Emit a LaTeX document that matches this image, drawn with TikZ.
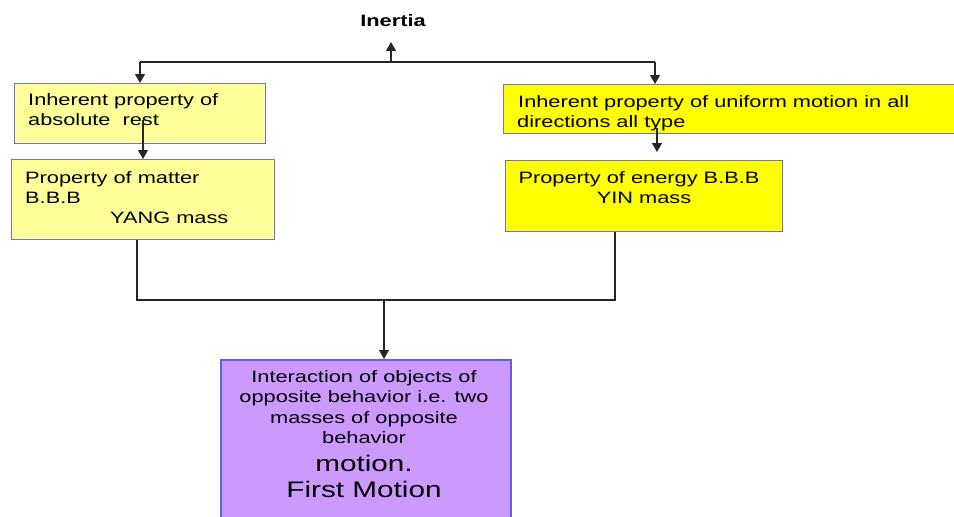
\documentclass[tikz,border=0pt]{standalone}
\usepackage{fontspec}
\setmainfont{Liberation Sans}
\usetikzlibrary{arrows.meta}
\definecolor{lyel}{HTML}{FFFF99}
\definecolor{yel}{HTML}{FFFF00}
\definecolor{purp}{HTML}{CC99FF}
\definecolor{bord}{HTML}{7474C4}
\definecolor{pbord}{HTML}{6060E0}
\newcommand{\sx}[1]{\scalebox{1.32}[1]{#1}}
\tikzset{
  box/.style={draw=bord, line width=1.3pt, anchor=north west, inner sep=0pt},
  txt/.style={anchor=base west, inner sep=0pt, font=\fontsize{16.5}{20}\selectfont},
  ctxt/.style={anchor=base, inner sep=0pt, font=\fontsize{16.5}{20}\selectfont},
  btxt/.style={anchor=base, inner sep=0pt, font=\fontsize{22.5}{26}\selectfont},
  conn/.style={draw=black!85, line width=1.2pt},
  arr/.style={conn, -{Triangle[width=10pt,length=9pt]}}
}
\begin{document}
\begin{tikzpicture}[x=1pt,y=-1pt]
\useasboundingbox (0,0) rectangle (954,517);
% boxes
\node[box, fill=lyel, minimum width=251pt, minimum height=60pt] (b1) at (14,83) {};
\node[box, fill=lyel, minimum width=263pt, minimum height=80pt] (b2) at (11,159) {};
\node[box, fill=yel, minimum width=460pt, minimum height=49pt] (b3) at (503,84) {};
\node[box, fill=yel, minimum width=277pt, minimum height=71pt] (b4) at (505,160) {};
\node[box, draw=pbord, line width=2pt, fill=purp, minimum width=290pt, minimum height=170pt] (b5) at (220,359) {};
% title
\node[anchor=base, inner sep=0pt, font=\fontsize{16.5}{20}\selectfont\bfseries] (inertia) at (393,26) {\sx{Inertia}};
% texts
\node[txt] (t1a) at (28,105) {\sx{Inherent property of}};
\node[txt] (t1b) at (28,125) {\sx{absolute\ \ rest}};
\node[txt] (t2a) at (25,183) {\sx{Property of matter}};
\node[txt] (t2b) at (25,203) {\sx{B.B.B}};
\node[txt] (t2c) at (110,223) {\sx{YANG mass}};
\node[txt] (t3a) at (518,107) {\sx{Inherent property of uniform motion in all}};
\node[txt] (t3b) at (517,127) {\sx{directions all type}};
\node[ctxt] (t4a) at (639,183) {\sx{Property of energy B.B.B}};
\node[ctxt] (t4b) at (644,203) {\sx{YIN mass}};
\node[ctxt] (t5a) at (364,382) {\sx{Interaction of objects of}};
\node[ctxt] (t5b) at (364,402) {\sx{opposite behavior i.e. two}};
\node[ctxt] (t5c) at (364,423) {\sx{masses of opposite}};
\node[ctxt] (t5d) at (364,443) {\sx{behavior}};
\node[btxt] (t5e) at (364,471) {\sx{motion.}};
\node[btxt] (t5f) at (364,497) {\sx{First Motion}};
% connectors
\coordinate (top) at (391,62);
\coordinate (tl) at (140,62);
\coordinate (tr) at (655,62);
\draw[arr] (top) -- (391,42);
\draw[conn] (tl) -- (tr);
\draw[arr] (tl) -- (b1.north -| tl);
\draw[arr] (tr) -- (b3.north -| tr);
\draw[arr] (143,120) -- (b2.north -| 143,0);
\draw[arr] (657,128) -- (657,152);
\coordinate (ml) at (137,300);
\coordinate (mr) at (615,300);
\coordinate (mm) at (384,300);
\draw[conn] (b2.south -| ml) -- (ml) -- (mr) -- (b4.south -| mr);
\draw[arr] (mm) -- (b5.north -| mm);
\end{tikzpicture}
\end{document}
